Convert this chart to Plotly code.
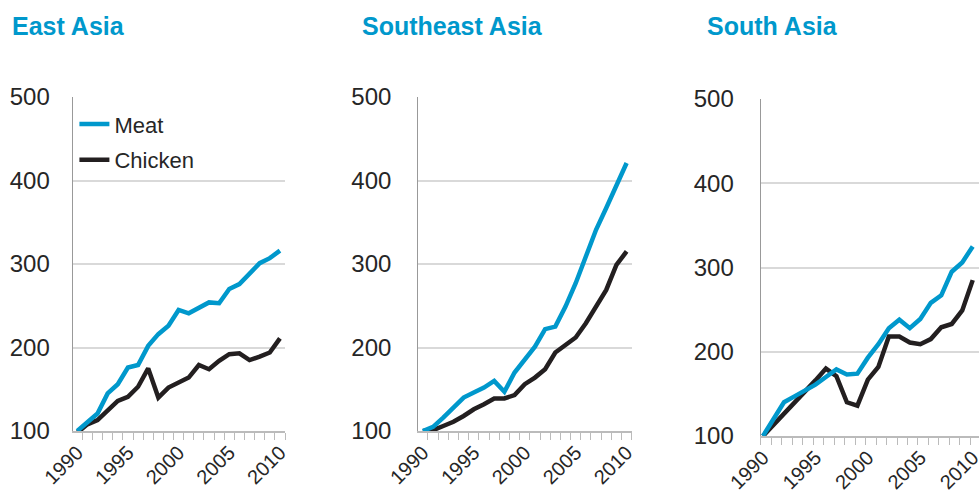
import plotly.graph_objects as go

years = list(range(1990, 2011))

east_meat = [100, 110, 121, 145, 156, 176, 179, 202, 216, 226, 245, 241, 247, 254, 253, 270, 276, 288, 301, 307, 316]
east_chicken = [98, 108, 113, 124, 136, 141, 153, 175, 140, 152, 158, 164, 179, 174, 184, 192, 193, 185, 189, 194, 211]

se_meat = [100, 105, 116, 128, 140, 146, 152, 160, 147, 170, 186, 201, 222, 225, 249, 277, 309, 341, 367, 393, 421]
se_chicken = [100, 101, 106, 111, 118, 126, 132, 139, 139, 143, 156, 164, 174, 194, 203, 212, 229, 249, 269, 299, 315]

s_meat = [100, 121, 140, 147, 154, 161, 170, 179, 173, 174, 193, 209, 228, 238, 228, 239, 258, 267, 295, 306, 325]
s_chicken = [100, 113, 127, 140, 153, 166, 180, 171, 140, 136, 167, 182, 218, 218, 211, 209, 215, 229, 233, 249, 285]

titles = ["East Asia", "Southeast Asia", "South Asia"]
y_ticks = [100, 200, 300, 400, 500]
x_tick_years = [1990, 1995, 2000, 2005, 2010]

BLUE = "#0098CC"
BLACK = "#231F20"
W, H = 979, 492

fig = go.Figure()

panels = [
    (east_meat, east_chicken, "x", "y"),
    (se_meat, se_chicken, "x2", "y2"),
    (s_meat, s_chicken, "x3", "y3"),
]
for i, (meat, chicken, xa, ya) in enumerate(panels):
    fig.add_trace(go.Scatter(x=years, y=chicken, mode="lines", name="Chicken",
                             line=dict(color=BLACK, width=4.5), xaxis=xa, yaxis=ya,
                             showlegend=(i == 0), legendgroup="b", legendrank=2))
    fig.add_trace(go.Scatter(x=years, y=meat, mode="lines", name="Meat",
                             line=dict(color=BLUE, width=4.5), xaxis=xa, yaxis=ya,
                             showlegend=(i == 0), legendgroup="a", legendrank=1))

# pixel geometry
xdoms = [(72.7, 285), (418.3, 631.7), (760.7, 978.5)]
ydoms = [(97, 431), (97, 431), (99, 436)]
xranges = [[1989.55, 2010.5], [1989.55, 2010.5], [1989.78, 2010.55]]
standoffs = [17, 21, 21]

layout = dict(
    template="none",
    width=W, height=H, autosize=False,
    margin=dict(l=0, r=0, t=0, b=0, pad=0),
    paper_bgcolor="white", plot_bgcolor="white",
    font=dict(family="Liberation Sans, Arial, sans-serif", color="#262626"),
    legend=dict(x=0.076, y=0.79, xanchor="left", yanchor="top",
                font=dict(size=22, color="#262626"),
                bgcolor="rgba(0,0,0,0)", tracegroupgap=4,
                itemwidth=30, traceorder="grouped"),
    showlegend=True,
)
for i in range(3):
    sfx = "" if i == 0 else str(i + 1)
    x0, x1 = xdoms[i]
    yt, yb = ydoms[i]
    layout["xaxis" + sfx] = dict(
        domain=[x0 / W, x1 / W], anchor="y" + sfx, range=xranges[i], automargin=False,
        tickmode="array", tickvals=x_tick_years, ticktext=[str(v) for v in x_tick_years],
        ticks="", tickangle=-45, tickfont=dict(size=20, color="#262626"),
        ticklabeloverflow="allow",
        showgrid=False, zeroline=False,
        showline=True, linecolor="#BBBBBB", linewidth=2,
        minor=dict(tickmode="linear", tick0=xranges[i][0] if i == 2 else 1989.5, dtick=1,
                   ticks="outside", ticklen=7, tickcolor="#BBBBBB", tickwidth=1.3,
                   showgrid=False),
    )
    layout["yaxis" + sfx] = dict(
        domain=[1 - yb / H, 1 - yt / H], anchor="x" + sfx, range=[100, 500], automargin=False,
        tickmode="array", tickvals=y_ticks, ticks="",
        tickfont=dict(size=24, color="#262626"), ticklabelstandoff=standoffs[i],
        showgrid=True, gridcolor="#D9D9D9", gridwidth=1.5,
        zeroline=False, showline=True, linecolor="#999999", linewidth=1.2,
    )

title_x = [10, 360, 705]
layout["annotations"] = [
    dict(text="<b>%s</b>" % t, x=title_x[i] / W, y=1 - 26 / H, xref="paper", yref="paper",
         xanchor="left", yanchor="middle", showarrow=False,
         font=dict(size=25, color=BLUE, family="Liberation Sans, Arial, sans-serif"))
    for i, t in enumerate(titles)
]
fig.update_layout(**layout)
fig.write_html("out.html", config={"displayModeBar": False},
               post_script="document.body.style.margin='0px';document.body.style.padding='0px';")
